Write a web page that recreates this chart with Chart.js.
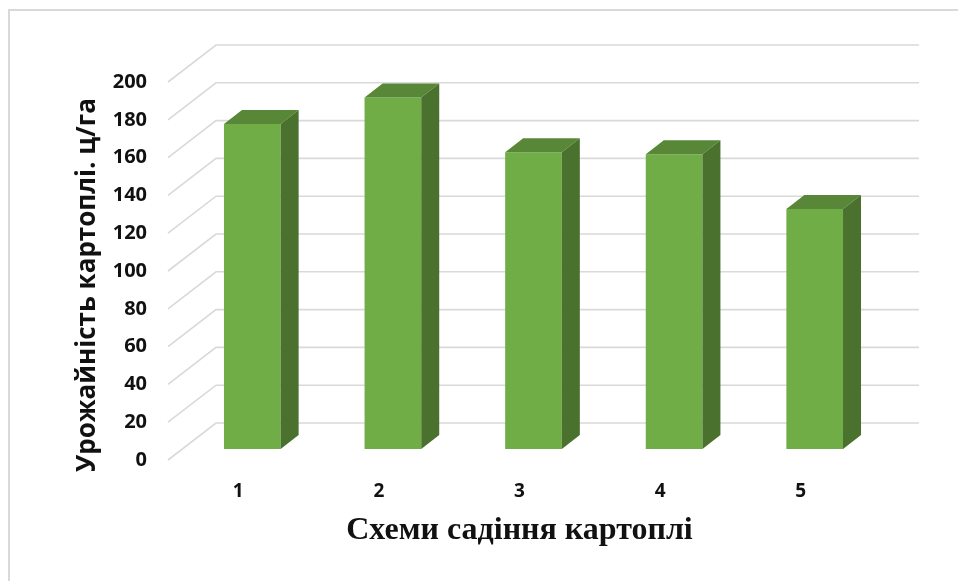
<!DOCTYPE html>
<html>
<head>
<meta charset="utf-8">
<script src="https://cdn.jsdelivr.net/npm/chart.js@4/dist/chart.umd.min.js"></script>
<style>
  html, body { margin: 0; padding: 0; background: #fff; }
  canvas { display: block; }
</style>
</head>
<body>
<canvas id="yieldChart" width="958" height="581"></canvas>
<script>
// data
const categories = ['1', '2', '3', '4', '5'];
const yields = [172, 186, 157, 156, 127];
const yMin = 0;
const yMax = 200;
const yStep = 20;
const xTitle = 'Схеми садіння картоплі';
const yTitle = 'Урожайність картоплі. ц/га';

// 3d look
const DEPTH_X = 48, DEPTH_Y = 37;      // floor/wall depth
const FRONT_X = 14, FRONT_Y = 11;      // bar front face offset
const BAR_X = 18, BAR_Y = 14;          // bar depth
const frontColor = '#70AD47';
const topColor = '#578737';
const sideColor = '#4A712D';
const gridColor = '#d9d9d9';

const depthPlugin = {
    id: 'depth',
    beforeDraw(chart) {
        const ctx = chart.ctx;
        ctx.save();
        ctx.strokeStyle = gridColor;
        ctx.lineWidth = 2;
        ctx.beginPath();
        ctx.moveTo(9, chart.height);
        ctx.lineTo(9, 10);
        ctx.lineTo(chart.width, 10);
        ctx.stroke();
        ctx.restore();
    },
    beforeDatasetsDraw(chart) {
        const ctx = chart.ctx;
        const area = chart.chartArea;
        const yScale = chart.scales.y;
        ctx.save();
        ctx.strokeStyle = gridColor;
        ctx.lineWidth = 1.6;
        yScale.ticks.forEach(t => {
            const py = yScale.getPixelForValue(t.value);
            ctx.beginPath();
            ctx.moveTo(area.left, py);
            ctx.lineTo(area.left + DEPTH_X, py - DEPTH_Y);
            ctx.lineTo(area.right + DEPTH_X, py - DEPTH_Y);
            ctx.stroke();
        });
        ctx.restore();
        // front faces are drawn by chart.js, shifted into the depth
        ctx.save();
        ctx.translate(FRONT_X, -FRONT_Y);
    },
    afterDatasetsDraw(chart) {
        const ctx = chart.ctx;
        ctx.restore();
        const meta = chart.getDatasetMeta(0);
        ctx.save();
        meta.data.forEach(bar => {
            const p = bar.getProps(['x', 'y', 'base', 'width'], true);
            const l = p.x - p.width / 2 + FRONT_X;
            const r = p.x + p.width / 2 + FRONT_X;
            const t = p.y - FRONT_Y;
            const b = p.base - FRONT_Y;
            // top
            ctx.fillStyle = topColor;
            ctx.beginPath();
            ctx.moveTo(l, t);
            ctx.lineTo(l + BAR_X, t - BAR_Y);
            ctx.lineTo(r + BAR_X, t - BAR_Y);
            ctx.lineTo(r, t);
            ctx.closePath();
            ctx.fill();
            // side
            ctx.fillStyle = sideColor;
            ctx.beginPath();
            ctx.moveTo(r, t);
            ctx.lineTo(r + BAR_X, t - BAR_Y);
            ctx.lineTo(r + BAR_X, b - BAR_Y);
            ctx.lineTo(r, b);
            ctx.closePath();
            ctx.fill();
        });
        ctx.restore();
    },
    afterDraw(chart) {
        // y axis title
        const ctx = chart.ctx;
        ctx.save();
        ctx.translate(88, 285);
        ctx.rotate(-Math.PI / 2);
        ctx.font = 'bold 26px "Open Sans"';
        ctx.fillStyle = '#111';
        ctx.textAlign = 'center';
        ctx.textBaseline = 'middle';
        ctx.fillText(yTitle, 0, 0);
        ctx.restore();
    }
};

function initializeChart() {
    const barCtx = document.getElementById('yieldChart');
    if (barCtx) {
        new Chart(barCtx, {
            type: 'bar',
            data: {
                labels: categories,
                datasets: [{
                    label: 'Урожайність',
                    data: yields,
                    backgroundColor: frontColor,
                    borderWidth: 0,
                    categoryPercentage: 1,
                    barPercentage: 0.403,
                }]
            },
            options: {
                responsive: false,
                animation: false,
                layout: {
                    padding: { left: 0, right: 87, top: 82, bottom: 0 }
                },
                plugins: {
                    legend: { display: false },
                    tooltip: { enabled: false }
                },
                scales: {
                    x: {
                        grid: { display: false, drawTicks: false },
                        border: { display: false },
                        ticks: {
                            color: '#111',
                            padding: 20,
                            font: { family: 'Open Sans', weight: 'bold', size: 19 }
                        },
                        title: {
                            display: true,
                            text: xTitle,
                            color: '#111',
                            padding: { top: 0, bottom: 31 },
                            font: { family: 'Liberation Serif', weight: 'bold', size: 32 }
                        },
                        afterFit(scale) { scale.height = 121; }
                    },
                    y: {
                        min: yMin,
                        max: yMax,
                        grid: { display: false, drawTicks: false },
                        border: { display: false },
                        ticks: {
                            stepSize: yStep,
                            color: '#111',
                            padding: 21,
                            font: { family: 'Open Sans', weight: 'bold', size: 20 }
                        },
                        afterFit(scale) { scale.width = 168; }
                    }
                }
            },
            plugins: [depthPlugin]
        });
    }
}

initializeChart();
</script>
</body>
</html>
